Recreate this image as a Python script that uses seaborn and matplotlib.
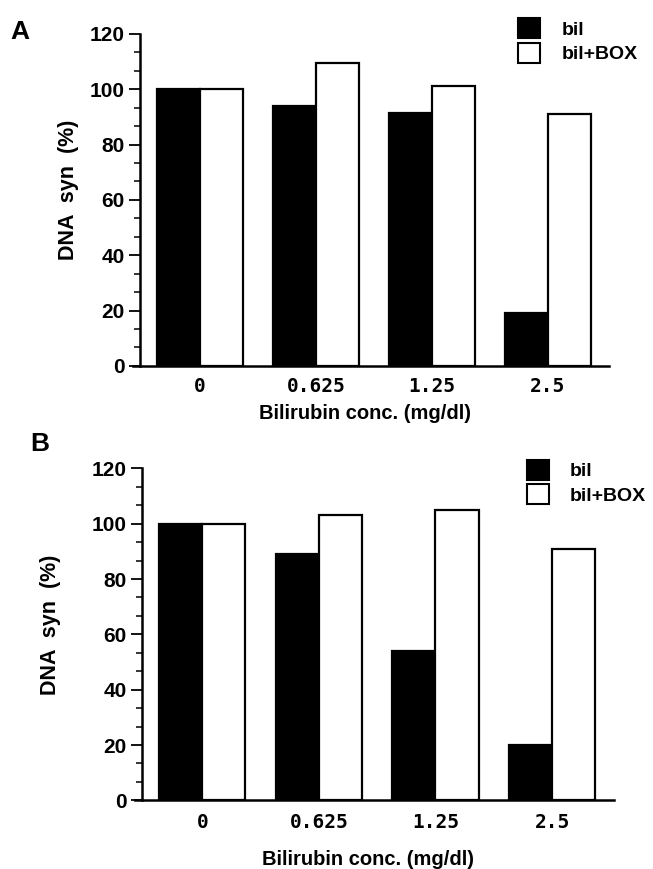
import pandas as pd
import matplotlib
matplotlib.use('Agg')
import matplotlib.pyplot as plt
import seaborn as sns
from matplotlib.ticker import MultipleLocator, AutoMinorLocator
from matplotlib.patches import Patch

# data
conc = ['0', '0.625', '1.25', '2.5']
groups = ['bil', 'bil+BOX']
a_bil = [100, 94, 91.5, 19]
a_box = [100, 109.5, 101, 91]
b_bil = [100, 89, 54, 20]
b_box = [100, 103, 105, 91]

sns.set_theme(style='ticks')
plt.rcParams['font.family'] = ['Liberation Sans', 'DejaVu Sans']
plt.rcParams['font.weight'] = 'bold'
for key in ['text.color', 'axes.labelcolor', 'xtick.color', 'ytick.color',
            'axes.edgecolor']:
    plt.rcParams[key] = 'black'


def make_df(bil, box):
    rows = []
    for c, v in zip(conc, bil):
        rows.append({'conc': c, 'treat': 'bil', 'val': v})
    for c, v in zip(conc, box):
        rows.append({'conc': c, 'treat': 'bil+BOX', 'val': v})
    return pd.DataFrame(rows)


def draw_panel(ax, df, letter, legend_xy, letter_xy, ylab_x, xlab_y, xpad):
    sns.barplot(data=df, x='conc', y='val', hue='treat', order=conc,
                hue_order=groups, palette=['black', 'white'],
                edgecolor='black', linewidth=1.6, width=0.74,
                saturation=1, legend=False, ax=ax)
    ax.set_ylim(0, 120)
    ax.set_xlim(-0.52, 3.53)
    ax.yaxis.set_major_locator(MultipleLocator(20))
    ax.yaxis.set_minor_locator(AutoMinorLocator(3))
    ax.tick_params(axis='y', which='major', length=8, width=1.3,
                   labelsize=15, direction='out', pad=3)
    ax.tick_params(axis='y', which='minor', length=4, width=1.1,
                   direction='out')
    ax.tick_params(axis='x', length=0, pad=xpad)
    for lab in ax.get_xticklabels():
        lab.set_fontfamily('DejaVu Sans Mono')
        lab.set_fontsize(14)
        lab.set_fontweight('bold')
    sns.despine(ax=ax)
    ax.spines['left'].set_linewidth(1.8)
    ax.spines['bottom'].set_linewidth(1.8)
    ax.spines['bottom'].set_bounds(-0.58, 3.53)
    ax.set_ylabel('DNA  syn  (%)', fontsize=15.5, fontweight='bold')
    ax.yaxis.set_label_coords(ylab_x, 0.53)
    ax.set_xlabel('Bilirubin conc. (mg/dl)', fontsize=14.5,
                  fontweight='bold')
    ax.xaxis.set_label_coords(0.48, xlab_y)
    handles = [Patch(facecolor='black', edgecolor='black', linewidth=1.5),
               Patch(facecolor='white', edgecolor='black', linewidth=1.5)]
    ax.legend(handles, groups, loc='upper left', bbox_to_anchor=legend_xy,
              frameon=False, fontsize=14, handlelength=1.1,
              handleheight=1.2, handletextpad=1.1, labelspacing=0.2,
              borderaxespad=0)
    ax.figure.text(letter_xy[0], letter_xy[1], letter, fontsize=19,
                   fontweight='bold', ha='left', va='top')


fig = plt.figure(figsize=(6.53, 8.69), dpi=100)
ax1 = fig.add_axes([0.214, 0.579, 0.719, 0.382])
ax2 = fig.add_axes([0.217, 0.079, 0.723, 0.382])

draw_panel(ax1, make_df(a_bil, a_box), 'A', (0.79, 1.07), (0.016, 0.977),
           -0.13, -0.115, 8)
draw_panel(ax2, make_df(b_bil, b_box), 'B', (0.80, 1.05), (0.046, 0.503),
           -0.17, -0.15, 9)

fig.savefig('out.png', dpi=100, facecolor='white')
